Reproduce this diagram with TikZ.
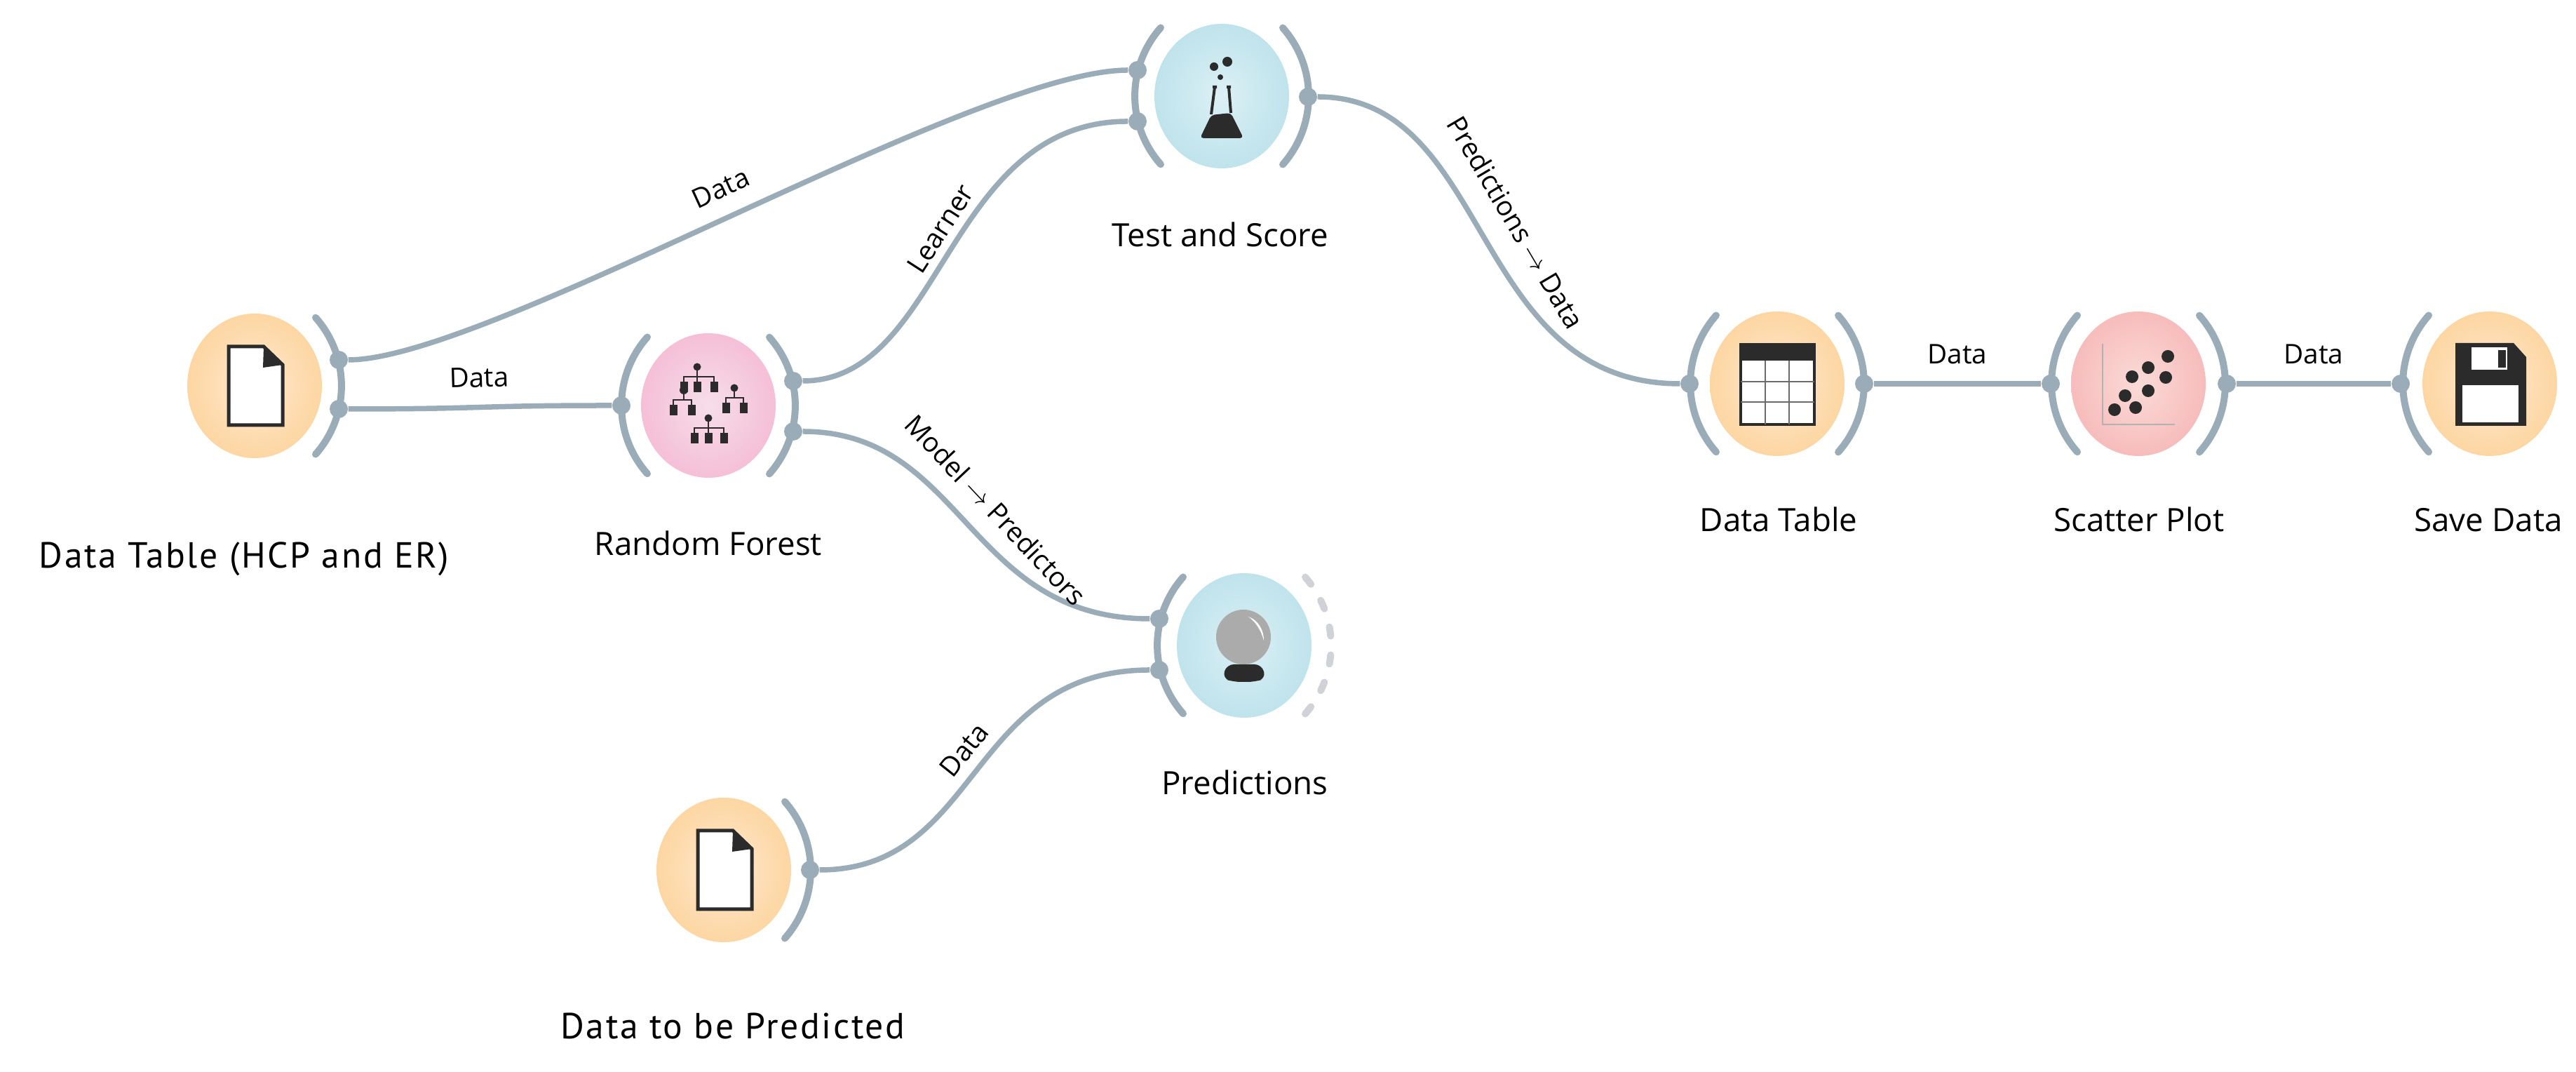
\documentclass[tikz,border=0pt]{standalone}
\usepackage{fontspec}
\usetikzlibrary{shapes.geometric,positioning}
\setmainfont{Open Sans}
\newfontfamily\dinfont[LetterSpace=5]{PT Sans}
\definecolor{wirecol}{HTML}{9AACB8}
\definecolor{dashcol}{HTML}{CFD2D6}
\definecolor{inkcol}{HTML}{2B2B2B}
\definecolor{orangein}{HTML}{FFE9D0}
\definecolor{orangeout}{HTML}{FDD6A2}
\definecolor{pinkin}{HTML}{F6DEE9}
\definecolor{pinkout}{HTML}{F5BFD7}
\definecolor{bluein}{HTML}{DCF0F5}
\definecolor{blueout}{HTML}{BFE3EC}
\definecolor{redin}{HTML}{FADBD7}
\definecolor{redout}{HTML}{F7BCBC}

\begin{document}
\begin{tikzpicture}[
    widget/.style={ellipse, minimum width=1.92cm, minimum height=2.06cm, inner sep=0pt, shading=radial},
    datawidget/.style={widget, inner color=orangein, outer color=orangeout},
    modelwidget/.style={widget, inner color=pinkin, outer color=pinkout},
    evalwidget/.style={widget, inner color=bluein, outer color=blueout},
    plotwidget/.style={widget, inner color=redin, outer color=redout},
    port/.style={circle, fill=wirecol, minimum size=.26cm, inner sep=0pt},
    wire/.style={draw=wirecol, line width=.075cm},
    bracket/.style={draw=wirecol, line width=.1cm, line cap=round},
    widgetname/.style={anchor=base, font=\fontsize{13}{15}\selectfont},
    bigname/.style={anchor=base, font=\dinfont\fontsize{14.7}{16}\selectfont},
    edgelabel/.style={font=\fontsize{11}{13}\selectfont, inner sep=2pt, sloped, above=5pt},
    leftbr/.pic={\draw[bracket] (-.87,.975) arc[start angle=138.5, end angle=221.5, radius=1.47];},
    rightbr/.pic={\draw[bracket] (.87,-.975) arc[start angle=-41.5, end angle=41.5, radius=1.47];},
    fileicon/.pic={
        \draw[inkcol, fill=white, line width=.05cm] (-.37,.56) -- (.13,.56) -- (.40,.30) -- (.40,-.56) -- (-.37,-.56) -- cycle;
        \fill[inkcol] (.13,.56) -- (.40,.30) -- (.12,.26) -- cycle;
    },
    treeicon/.pic={
        \foreach \rx/\ry/\kids in {-.16/.55/{-.35,-.16,.08}, .37/.25/{.25,.50}, 0/-.18/{-.20,0,.22}, -.35/.22/{-.50,-.24}} {
            \fill[inkcol] (\rx,\ry) circle (.055);
            \foreach \kx in \kids {
                \draw[inkcol, line width=.02cm] (\rx,\ry) -- (\rx,\ry-.14) -| (\kx,\ry-.27);
                \fill[inkcol] (\kx-.055,\ry-.36) rectangle (\kx+.055,\ry-.21);
            }
        }
        % the inner kid of the first tree is a round one
        \fill[inkcol] (-.35,.22) circle (.06);
    },
    flaskicon/.pic={
        \fill[inkcol] (.08,.49) circle (.07) (-.11,.42) circle (.06) (-.02,.27) circle (.04);
        \draw[inkcol, line width=.04cm] (-.13,.13) -- (-.07,.13) (-.10,.13) -- (-.15,-.26) (.07,.13) -- (.13,.13) (.10,.13) -- (.13,-.24);
        \fill[inkcol, rounded corners=.5mm] (-.15,-.27) -- (.13,-.24) -- (.31,-.60) -- (-.31,-.60) -- cycle;
    },
    ballicon/.pic={
        \fill[inkcol, rounded corners=1mm] (-.25,-.27) -- (.25,-.27) -- (.31,-.47) -- (.15,-.52) -- (-.15,-.52) -- (-.31,-.47) -- cycle;
        \fill[black!33] (-.01,.12) circle (.39);
        \fill[white] (.06,.41) .. controls (.22,.35) and (.28,.2) .. (.28,.07) .. controls (.24,.22) and (.16,.34) .. (.06,.41);
    },
    tableicon/.pic={
        \draw[inkcol, fill=white, line width=.04cm] (-.52,.56) rectangle (.53,-.58);
        \fill[inkcol] (-.53,.57) rectangle (.54,.33);
        \draw[inkcol!70, line width=.012cm] (-.17,.33) -- (-.17,-.58) (.17,.33) -- (.17,-.58) (-.52,.03) -- (.53,.03) (-.52,-.26) -- (.53,-.26);
    },
    scattericon/.pic={
        \draw[black!30, line width=.02cm] (-.51,.57) -- (-.51,-.58) -- (.52,-.58);
        \foreach \px/\py in {.42/.39, .14/.23, -.09/.10, .39/.09, .14/-.10, -.19/-.17, -.34/-.37, -.04/-.34}
            \fill[inkcol] (\px,\py) circle (.09);
    },
    saveicon/.pic={
        \fill[inkcol] (-.49,.58) -- (.34,.58) -- (.52,.38) -- (.52,-.60) -- (-.49,-.60) -- cycle;
        \fill[white] (-.39,-.02) rectangle (.41,-.55);
        \fill[white] (-.26,.52) rectangle (.25,.20);
        \fill[inkcol] (.12,.48) rectangle (.23,.23);
    }
]

% Widgets
\node[datawidget] (file1) at (3.63, 9.78) {};
\node[modelwidget] (forest) at (10.10, 9.50) {};
\node[evalwidget] (score) at (17.42, 13.91) {};
\node[evalwidget] (predict) at (17.74, 6.08) {};
\node[datawidget] (file2) at (10.32, 2.88) {};
\node[datawidget] (table) at (25.34, 9.81) {};
\node[plotwidget] (scatter) at (30.49, 9.81) {};
\node[datawidget] (save) at (35.50, 9.81) {};

% Icons
\pic at (file1) {fileicon};
\pic at (file2) {fileicon};
\pic at (forest) {treeicon};
\pic at (score) {flaskicon};
\pic at (predict) {ballicon};
\pic at (table) {tableicon};
\pic at (scatter) {scattericon};
\pic at (save) {saveicon};

% Channel brackets
\pic at (file1) {rightbr};
\pic at (forest) {leftbr};
\pic at (forest) {rightbr};
\pic at (score) {leftbr};
\pic at (score) {rightbr};
\pic at (predict) {leftbr};
\pic at (file2) {rightbr};
\pic at (table) {leftbr};
\pic at (table) {rightbr};
\pic at (scatter) {leftbr};
\pic at (scatter) {rightbr};
\pic at (save) {leftbr};
\draw[dashcol, line width=.1cm, line cap=round, dash pattern=on .13cm off .27cm] (18.61, 5.105) arc[start angle=-41.5, end angle=41.5, radius=1.47];

% Ports
\node[port] (file1a) at (4.83, 10.15) {};
\node[port] (file1b) at (4.83, 9.45) {};
\node[port] (forestin) at (8.86, 9.50) {};
\node[port] (foresta) at (11.31, 9.85) {};
\node[port] (forestb) at (11.31, 9.13) {};
\node[port] (scorea) at (16.22, 14.28) {};
\node[port] (scoreb) at (16.22, 13.55) {};
\node[port] (scoreout) at (18.65, 13.90) {};
\node[port] (predicta) at (16.53, 6.46) {};
\node[port] (predictb) at (16.53, 5.73) {};
\node[port] (file2out) at (11.55, 2.88) {};
\node[port] (tablein) at (24.09, 9.81) {};
\node[port] (tableout) at (26.58, 9.81) {};
\node[port] (scatterin) at (29.24, 9.81) {};
\node[port] (scatterout) at (31.75, 9.81) {};
\node[port] (savein) at (34.23, 9.81) {};

% Links
\draw[wire] (file1a) to[out=0, in=180, out distance=2cm, in distance=2.2cm] node[edgelabel] {Data} (scorea);
\draw[wire] (file1b) to[out=0, in=180, distance=2cm] node[edgelabel] {Data} (forestin);
\draw[wire] (foresta) to[out=0, in=180, out distance=2cm, in distance=2.6cm] node[edgelabel, above=1pt, pos=.53] {Learner} (scoreb);
\draw[wire] (forestb) to[out=0, in=180, out distance=2.3cm, in distance=2.6cm] node[edgelabel, pos=.52] {Model $\rightarrow$ Predictors} (predicta);
\draw[wire] (file2out) to[out=0, in=180, out distance=2.3cm, in distance=2.6cm] node[edgelabel, above=2pt, pos=.52] {Data} (predictb);
\draw[wire] (scoreout) to[out=0, in=180, out distance=2.5cm, in distance=3cm] node[edgelabel, above=7pt] {Predictions $\rightarrow$ Data} (tablein);
\draw[wire] (tableout) -- node[edgelabel] {Data} (scatterin);
\draw[wire] (scatterout) -- node[edgelabel] {Data} (savein);

% Names
\node[bigname] (file1name) at (3.48, 7.18) {Data Table (HCP and ER)};
\node[widgetname] (forestname) at (10.10, 7.36) {Random Forest};
\node[widgetname] (scorename) at (17.40, 11.76) {Test and Score};
\node[widgetname] (predictname) at (17.75, 3.95) {Predictions};
\node[bigname] (file2name) at (10.45, 0.47) {Data to be Predicted};
\node[widgetname] (tablename) at (25.36, 7.70) {Data Table};
\node[widgetname] (scattername) at (30.50, 7.70) {Scatter Plot};
\node[widgetname] (savename) at (35.48, 7.70) {Save Data};

\useasboundingbox (0,0) rectangle (36.73,15.28);
\end{tikzpicture}
\end{document}
